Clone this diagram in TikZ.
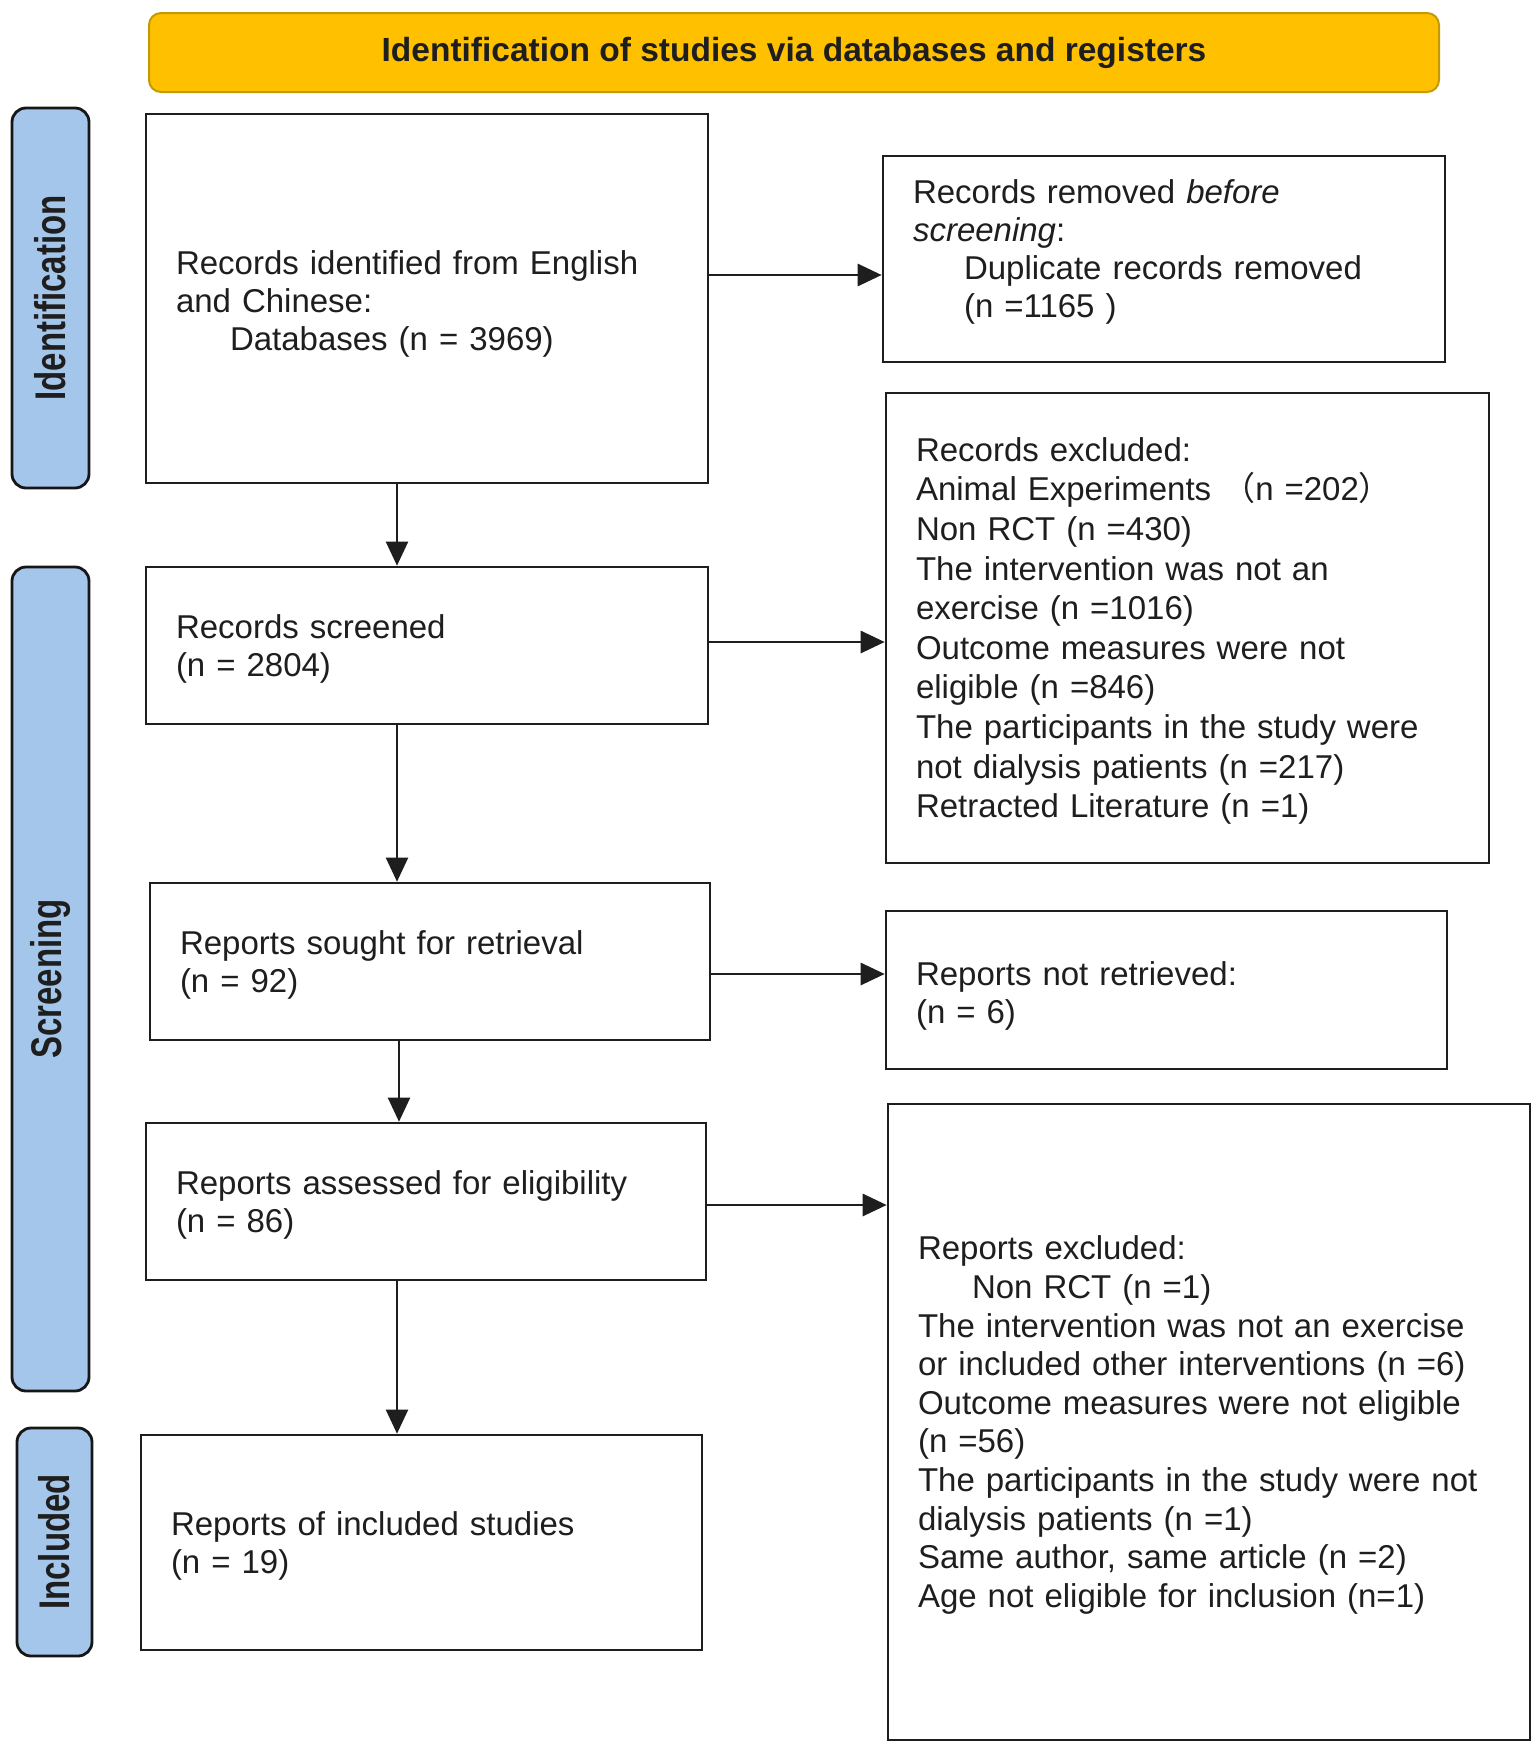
\documentclass[tikz,border=0pt]{standalone}
\usepackage{fontspec}
\setmainfont{Liberation Sans}
\newfontfamily\cjk{Noto Sans CJK SC}
\usetikzlibrary{arrows.meta}
\definecolor{hdrfill}{HTML}{FFC000}
\definecolor{hdrdraw}{HTML}{C49A00}
\definecolor{sidefill}{HTML}{A4C6EB}
\definecolor{sidedraw}{HTML}{161616}
\definecolor{ink}{HTML}{1E1E1E}
\newcommand{\bodysize}{\fontsize{33}{37.8}\selectfont}
\newcommand{\sidelabel}[1]{\rotatebox{90}{\scalebox{1}[1.3]{\bfseries #1}}}
\newcommand{\topstrut}[1]{\rule{0pt}{#1}}
\newcommand{\botstrut}[1]{\rule[-#1]{0pt}{#1}}
\tikzset{
  box/.style={draw=ink, line width=2.6pt, rectangle, inner xsep=30pt, inner ysep=0pt,
    align=left, text=ink, font=\bodysize},
  side/.style={draw=sidedraw, fill=sidefill, line width=2.8pt, rounded corners=14pt,
    inner sep=0pt, text=ink, font=\fontsize{33}{36}\selectfont},
  hdr/.style={draw=hdrdraw, fill=hdrfill, line width=2pt, rounded corners=12pt,
    inner sep=0pt, text=ink, font=\fontsize{33.5}{38}\selectfont\bfseries},
  harrow/.style={draw=ink, line width=2.8pt, -{Triangle[length=24pt,width=22pt]}},
  varrow/.style={draw=ink, line width=2pt, -{Triangle[length=24pt,width=22pt]}}
}
\begin{document}
\begin{tikzpicture}[x=1pt,y=-1pt]
\useasboundingbox (0,0) rectangle (1538,1748);
\fill[white] (0,0) rectangle (1538,1748);

% header
\node[hdr, minimum width=1290pt, minimum height=79pt] (hdr) at (794,52.5)
  {Identification of studies via databases and registers};

% side bars
\node[side, minimum width=77pt, minimum height=380pt] (sid) at (50.5,298) {\sidelabel{Identification}};
\node[side, minimum width=77pt, minimum height=824pt] (sscr) at (50.5,979) {\sidelabel{Screening}};
\node[side, minimum width=75pt, minimum height=228pt] (sinc) at (54.5,1542) {\sidelabel{Included}};

% left column
\node[box, minimum width=562pt, minimum height=369pt, text width=502pt] (ident) at (427,298.5)
  {\topstrut{35pt}Records identified from English\\and Chinese:\\\hspace*{54pt}Databases (n = 3969)};
\node[box, minimum width=562pt, minimum height=157pt, text width=502pt] (screened) at (427,645.5)
  {\topstrut{31pt}Records screened\\(n = 2804)};
\node[box, minimum width=560pt, minimum height=157pt, text width=500pt] (sought) at (430,961.5)
  {\topstrut{31pt}Reports sought for retrieval\\(n = 92)};
\node[box, minimum width=560pt, minimum height=157pt, text width=500pt] (assessed) at (426,1201.5)
  {\topstrut{31pt}Reports assessed for eligibility\\(n = 86)};
\node[box, minimum width=561pt, minimum height=215pt, text width=501pt] (included) at (421.5,1542.5)
  {\topstrut{31pt}Reports of included studies\\(n = 19)};

% right column
\node[box, minimum width=562pt, minimum height=206pt, text width=502pt] (removed) at (1164,259)
  {Records removed \textit{before}\\\textit{screening}:\\\hspace*{51pt}Duplicate records removed\\\hspace*{51pt}(n =1165 )\botstrut{21pt}};
\node[box, minimum width=603pt, minimum height=470pt, text width=543pt,
      font=\fontsize{33}{39.6}\selectfont] (recexcl) at (1187.5,628)
  {\topstrut{30pt}Records excluded:\\Animal Experiments {\cjk （}n =202{\cjk ）}\\Non RCT (n =430)\\The intervention was not an\\exercise (n =1016)\\Outcome measures were not\\eligible (n =846)\\The participants in the study were\\not dialysis patients (n =217)\\Retracted Literature (n =1)};
\node[box, minimum width=561pt, minimum height=158pt, text width=501pt] (notret) at (1166.5,990)
  {\topstrut{36pt}Reports not retrieved:\\(n = 6)};
\node[box, minimum width=642pt, minimum height=636pt, text width=582pt,
      font=\fontsize{33}{38.6}\selectfont] (repexcl) at (1209,1422)
  {\topstrut{30pt}Reports excluded:\\\hspace*{54pt}Non RCT (n =1)\\The intervention was not an exercise\\or included other interventions (n =6)\\Outcome measures were not eligible\\(n =56)\\The participants in the study were not\\dialysis patients (n =1)\\Same author, same article (n =2)\\Age not eligible for inclusion (n=1)};

% horizontal connectors
\draw[harrow] ([yshift=23.5pt]ident.east) -- ([yshift=23.5pt]ident.east -| removed.west);
\draw[harrow] ([yshift=3.5pt]screened.east) -- ([yshift=3.5pt]screened.east -| recexcl.west);
\draw[harrow] ([yshift=-12.5pt]sought.east) -- ([yshift=-12.5pt]sought.east -| notret.west);
\draw[harrow] ([yshift=-3.5pt]assessed.east) -- ([yshift=-3.5pt]assessed.east -| repexcl.west);

% vertical connectors
\draw[varrow] ([xshift=-30pt]ident.south) -- ([xshift=-30pt]ident.south |- screened.north);
\draw[varrow] ([xshift=-30pt]screened.south) -- ([xshift=-30pt]screened.south |- sought.north);
\draw[varrow] ([xshift=-31pt]sought.south) -- ([xshift=-31pt]sought.south |- assessed.north);
\draw[varrow] ([xshift=-29pt]assessed.south) -- ([xshift=-29pt]assessed.south |- included.north);
\end{tikzpicture}
\end{document}
